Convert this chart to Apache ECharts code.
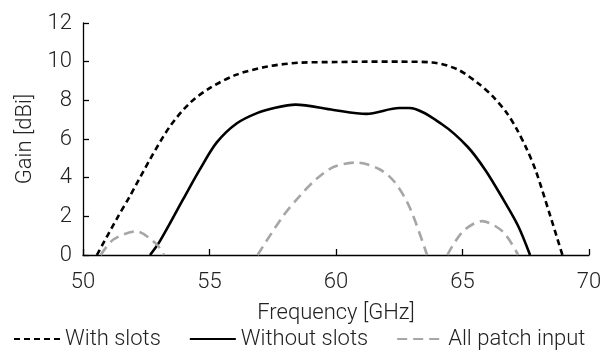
<!DOCTYPE html>
<html>
<head>
<meta charset="utf-8">
<script src="https://cdn.jsdelivr.net/npm/echarts@6/dist/echarts.min.js"></script>
<style>
  html, body { margin: 0; padding: 0; background: #fff; }
  #chart { width: 608px; height: 352px; }
</style>
</head>
<body>
<div id="chart"></div>
<script>
// values
const xTicks = [50, 55, 60, 65, 70];
const yTicks = [0, 2, 4, 6, 8, 10, 12];

const withSlotsFreq = [50.55, 51.33, 51.86, 52.65, 53.44, 54.23, 55.02, 56.07, 57.3, 58.6, 60.0, 61.2, 62.5, 63.8, 64.8, 65.6, 66.2, 66.75, 67.15, 67.55, 67.9, 68.45, 68.95];
const withSlotsGain = [0, 1.86, 3.06, 4.95, 6.66, 7.87, 8.64, 9.33, 9.75, 9.95, 9.98, 10.0, 10.0, 9.96, 9.6, 8.9, 8.2, 7.35, 6.5, 5.45, 4.35, 2.1, 0];

const withoutSlotsFreq = [52.65, 53.04, 53.96, 54.62, 55.28, 56.07, 56.9, 57.6, 58.4, 59.9, 61.2, 62.5, 62.9, 64.2, 65.2, 65.9, 66.6, 67.2, 67.67];
const withoutSlotsGain = [0, 0.72, 2.89, 4.43, 5.81, 6.8, 7.35, 7.62, 7.78, 7.5, 7.3, 7.6, 7.6, 6.75, 5.6, 4.4, 2.9, 1.5, 0];

const patchFreq1 = [50.7, 51.2, 52.1, 52.9, 53.2];
const patchGain1 = [0, 0.8, 1.22, 0.57, 0];
const patchFreq2 = [56.9, 57.9, 58.6, 59.2, 59.9, 60.8, 61.7, 62.3, 62.9, 63.6];
const patchGain2 = [0, 2.0, 3.1, 3.9, 4.55, 4.78, 4.45, 3.8, 2.5, 0];
const patchFreq3 = [64.4, 65.0, 65.77, 66.6, 67.2];
const patchGain3 = [0, 1.2, 1.75, 1.2, 0];

const seriesNames = ["With slots", "Without slots", "All patch input"];

const pairs = (xs, ys) => xs.map((x, i) => [x, ys[i]]);
// the grey curve is three humps, joined by gaps
const patchData = [
	...pairs(patchFreq1, patchGain1), [null, null],
	...pairs(patchFreq2, patchGain2), [null, null],
	...pairs(patchFreq3, patchGain3),
];

const font = "Roboto, 'Liberation Sans', Arial, sans-serif";
const textColor = "#222";
const textStyle = { fontFamily: font, fontSize: 22, fontWeight: 300, color: textColor };

const chart = echarts.init(document.getElementById("chart"), null, { renderer: "canvas" });

const lineSeries = (name, data, color, type) => ({
	name,
	type: "line",
	smooth: 0.3,
	symbol: "none",
	clip: true,
	data,
	lineStyle: { color, width: 2.6, type },
	itemStyle: { color },
});

chart.setOption({
	animation: false,
	textStyle: { fontFamily: font, color: textColor },
	grid: { left: 83, right: 19, top: 23, bottom: 97 },
	legend: {
		bottom: -3,
		left: 8,
		itemWidth: 46,
		itemHeight: 10,
		itemGap: 28,
		itemStyle: { opacity: 0 },
		textStyle: { ...textStyle },
		data: seriesNames,
	},
	xAxis: {
		type: "value",
		min: xTicks[0],
		max: xTicks[xTicks.length - 1],
		interval: 5,
		name: "Frequency [GHz]",
		nameLocation: "middle",
		nameGap: 47,
		nameTextStyle: textStyle,
		axisLine: { lineStyle: { color: "#000", width: 1.3 } },
		axisTick: { inside: true, length: 6, lineStyle: { color: "#000", width: 1.3 } },
		axisLabel: { ...textStyle, margin: 16 },
		splitLine: { show: false },
	},
	yAxis: {
		type: "value",
		min: yTicks[0],
		max: yTicks[yTicks.length - 1],
		interval: 2,
		name: "Gain [dBi]",
		nameLocation: "middle",
		nameGap: 44,
		nameTextStyle: textStyle,
		axisLine: { show: true, lineStyle: { color: "#000", width: 1.3 } },
		axisTick: { show: true, inside: true, length: 6, lineStyle: { color: "#000", width: 1.3 } },
		axisLabel: { ...textStyle, margin: 11 },
		splitLine: { show: false },
	},
	series: [
		lineSeries(seriesNames[0], pairs(withSlotsFreq, withSlotsGain), "#000", [6, 4]),
		lineSeries(seriesNames[1], pairs(withoutSlotsFreq, withoutSlotsGain), "#000", "solid"),
		lineSeries(seriesNames[2], patchData, "#a6a6a6", [10, 6]),
	],
});
</script>
</body>
</html>
